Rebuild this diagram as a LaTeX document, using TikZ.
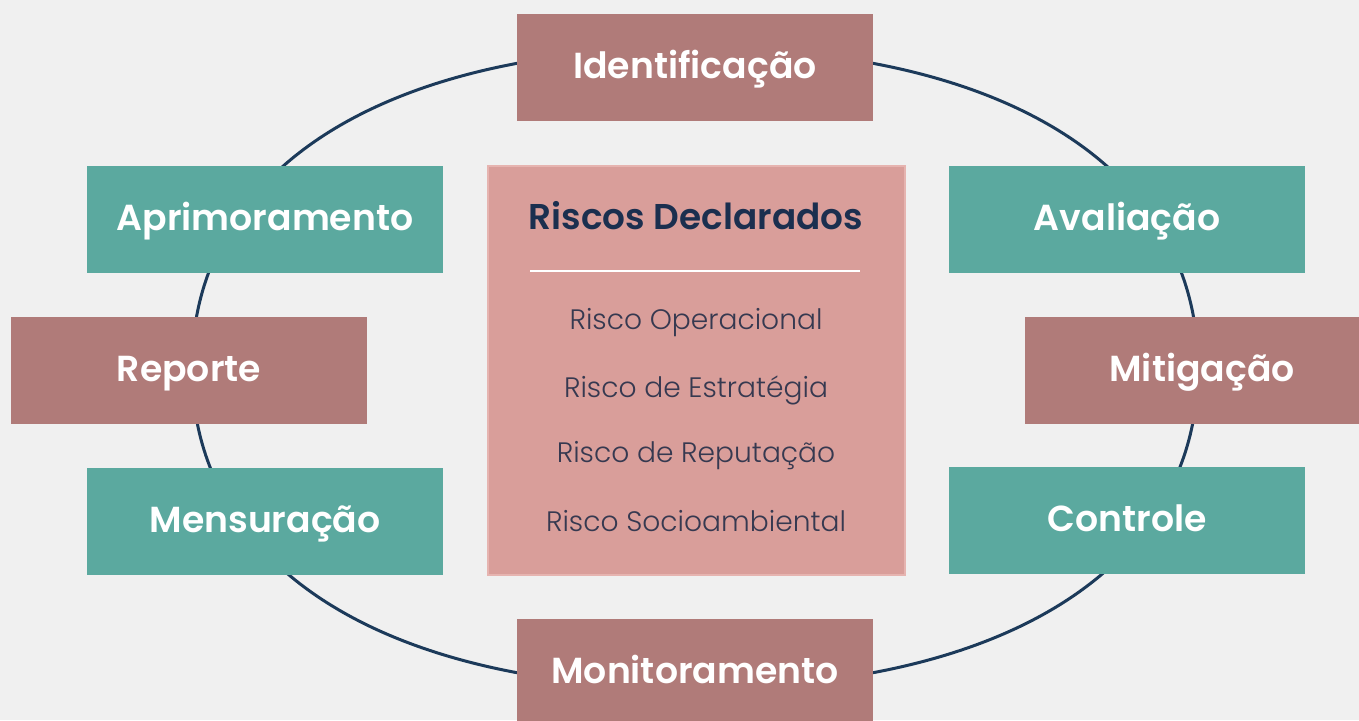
\documentclass[tikz,border=0pt]{standalone}
\usepackage{fontspec}
\setmainfont{Poppins}[BoldFont={Poppins SemiBold}]
\newfontfamily\lightfont{Poppins Light}
\definecolor{bgc}{HTML}{F0F0F0}
\definecolor{rosec}{HTML}{B07B79}
\definecolor{tealc}{HTML}{5BA99F}
\definecolor{centerc}{HTML}{D99E9A}
\definecolor{centeredge}{HTML}{E6B4B0}
\definecolor{ringc}{HTML}{1C3A5A}
\definecolor{titlec}{HTML}{1B2F4F}
\definecolor{itemc}{HTML}{363950}
\begin{document}
\begin{tikzpicture}[x=0.1mm,y=-0.1mm,
  box/.style={minimum width=35.6mm, minimum height=10.7mm, inner sep=0pt,
    text=white, font=\bfseries\fontsize{10.3}{12}\selectfont,
    text height=7.3pt, text depth=1pt},
  rosebox/.style={box, fill=rosec},
  tealbox/.style={box, fill=tealc},
  ring/.style={draw=ringc, line width=0.3mm},
  itemtext/.style={text=itemc, font=\lightfont\fontsize{8.0}{10}\selectfont, inner sep=0pt},
  titletext/.style={text=titlec, font=\bfseries\fontsize{10.2}{12}\selectfont, inner sep=0pt}]
\clip (0,0) rectangle (1359,720);
\fill[bgc] (0,0) rectangle (1359,720);
% ring
\path[ring] (1198,368) .. controls (1198,566.4) and (1006.9,688) .. (695,688)
  .. controls (383.1,688) and (192,566.4) .. (192,368)
  .. controls (192,169.6) and (383.1,48) .. (695,48)
  .. controls (1006.9,48) and (1198,169.6) .. (1198,368) -- cycle;
% outer boxes
\node[rosebox] (iden) at (695,67.5) {Identificação};
\node[tealbox] (aprim) at (265,219) {Aprimoramento};
\node[tealbox] (aval) at (1127,219) {Avaliação};
\node[rosebox] (rep) at (189,370) {Reporte};
\node[rosebox, minimum width=35.4mm] (mitig) at (1202,370) {Mitigação};
\node[tealbox] (mens) at (265,521) {Mensuração};
\node[tealbox] (ctrl) at (1127,520) {Controle};
\node[rosebox] (monit) at (695,672) {Monitoramento};
% center box
\node[fill=centerc, draw=centeredge, line width=0.2mm, minimum width=41.7mm,
  minimum height=40.9mm, inner sep=0pt] (center) at (696,370) {};
\node[titletext] (title) at (696,216) {Riscos Declarados};
\coordinate (sepL) at (530,271);
\coordinate (sepR) at (860,271);
\draw[white, line width=0.2mm] (sepL) -- (sepR);
\node[itemtext] (r1) at (696,323) {Risco Operacional};
\node[itemtext] (r2) at (696,390) {Risco de Estratégia};
\node[itemtext] (r3) at (696,456) {Risco de Reputação};
\node[itemtext] (r4) at (696,521) {Risco Socioambiental};
\end{tikzpicture}
\end{document}
